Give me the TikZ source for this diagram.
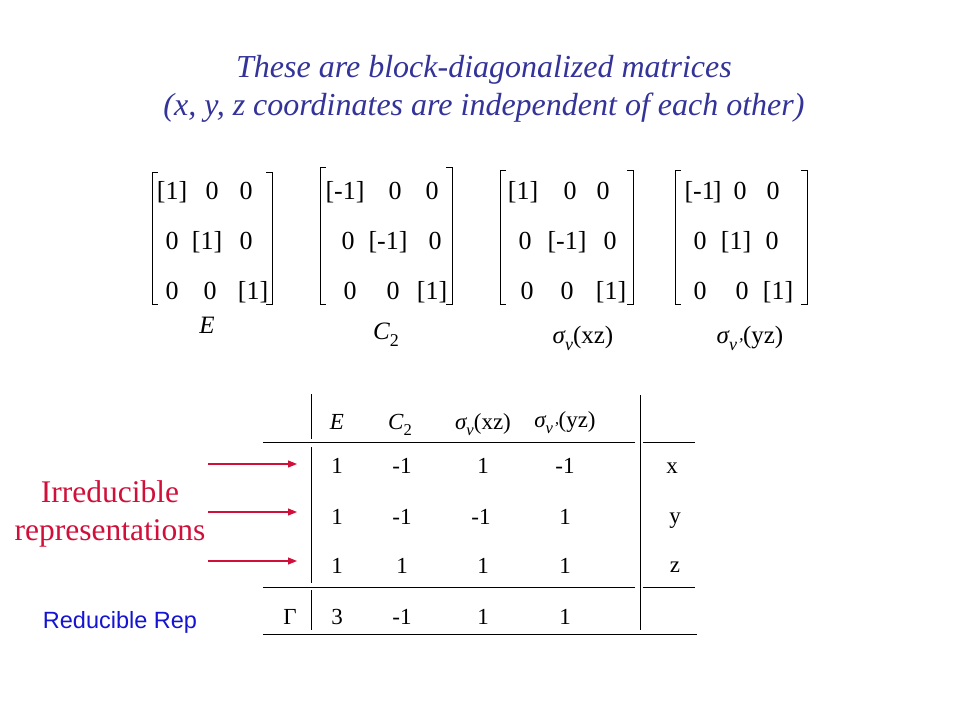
\documentclass[tikz,border=0pt]{standalone}
\usepackage{fontspec}
\setmainfont{Liberation Serif}
\newfontfamily\arialfont{Liberation Sans}
\usetikzlibrary{arrows.meta}
\definecolor{titleblue}{HTML}{333399}
\definecolor{irrred}{HTML}{D0103A}
\definecolor{repblue}{HTML}{1414D2}
\makeatletter
\newcommand{\lowsub}[1]{\raisebox{-0.28em}{\fontsize{\fpeval{0.72*\f@size}}{0}\selectfont #1}}
\makeatother

\begin{document}
\begin{tikzpicture}[x=1pt, y=-1pt,
  entry/.style={inner sep=0pt, anchor=base, font=\fontsize{26}{26}\selectfont},
  mlabel/.style={inner sep=0pt, anchor=base, font=\fontsize{25}{25}\selectfont},
  cell/.style={inner sep=0pt, anchor=base, font=\fontsize{23}{23}\selectfont},
  bracket/.style={draw=black, line width=1pt},
  rule/.style={draw=black, line width=1pt},
  irrarrow/.style={-{Triangle[length=9pt, width=7pt]}, draw=irrred, line width=1.1pt}
]
  \fill[white] (0,0) rectangle (960,720);
  \useasboundingbox (0,0) rectangle (960,720);

  % Title
  \node[inner sep=0pt, anchor=base, text=titleblue, font=\fontsize{32}{38}\selectfont\itshape] (title1) at (484,77) {These are block-diagonalized matrices};
  \node[inner sep=0pt, anchor=base, text=titleblue, font=\fontsize{32}{38}\selectfont\itshape] (title2) at (484,115) {(x, y, z coordinates are independent of each other)};

  % Matrix E
  \draw[bracket] (158,172) -- (152,172) -- (152,304) -- (158,304);
  \draw[bracket] (266,172) -- (272,172) -- (272,304) -- (266,304);
  \node[entry] (E11) at (172,199) {[1]};
  \node[entry] (E12) at (212,199) {0};
  \node[entry] (E13) at (246,199) {0};
  \node[entry] (E21) at (172,249) {0};
  \node[entry] (E22) at (207,249) {[1]};
  \node[entry] (E23) at (246,249) {0};
  \node[entry] (E31) at (172,299) {0};
  \node[entry] (E32) at (210,299) {0};
  \node[entry] (E33) at (253,299) {[1]};
  \node[mlabel] (labE) at (207,333) {\itshape E};

  % Matrix C2
  \draw[bracket] (326,167) -- (320,167) -- (320,304) -- (326,304);
  \draw[bracket] (446,167) -- (452,167) -- (452,304) -- (446,304);
  \node[entry] (C11) at (345,199) {[-1]};
  \node[entry] (C12) at (395,199) {0};
  \node[entry] (C13) at (432,199) {0};
  \node[entry] (C21) at (348,249) {0};
  \node[entry] (C22) at (388,249) {[-1]};
  \node[entry] (C23) at (435,249) {0};
  \node[entry] (C31) at (350,299) {0};
  \node[entry] (C32) at (393,299) {0};
  \node[entry] (C33) at (432,299) {[1]};
  \node[mlabel] (labC) at (386,339) {{\itshape C}\lowsub{2}};

  % Matrix sigma_v(xz)
  \draw[bracket] (506,170) -- (500,170) -- (500,304) -- (506,304);
  \draw[bracket] (627,170) -- (633,170) -- (633,304) -- (627,304);
  \node[entry] (S11) at (523,199) {[1]};
  \node[entry] (S12) at (570,199) {0};
  \node[entry] (S13) at (603,199) {0};
  \node[entry] (S21) at (525,249) {0};
  \node[entry] (S22) at (567,249) {[-1]};
  \node[entry] (S23) at (610,249) {0};
  \node[entry] (S31) at (527,299) {0};
  \node[entry] (S32) at (567,299) {0};
  \node[entry] (S33) at (611,299) {[1]};
  \node[mlabel] (labS) at (583,343) {{\itshape σ}\lowsub{\itshape v}(xz)};

  % Matrix sigma_v'(yz)
  \draw[bracket] (681,170) -- (675,170) -- (675,304) -- (681,304);
  \draw[bracket] (801,170) -- (807,170) -- (807,304) -- (801,304);
  \node[entry] (T11) at (703,199) {[-1\kern-2pt]};
  \node[entry] (T12) at (740,199) {0};
  \node[entry] (T13) at (773,199) {0};
  \node[entry] (T21) at (700,249) {0};
  \node[entry] (T22) at (736,249) {[1]};
  \node[entry] (T23) at (772,249) {0};
  \node[entry] (T31) at (700,299) {0};
  \node[entry] (T32) at (742,299) {0};
  \node[entry] (T33) at (778,299) {[1]};
  \node[mlabel] (labT) at (750,343) {{\itshape σ}\lowsub{\itshape v'}(yz)};

  % Character table rules
  \draw[rule] (311,394) -- (311,439);
  \draw[rule] (311,447) -- (311,583);
  \draw[rule] (311,590) -- (311,630);
  \draw[rule] (640,395) -- (640,630);
  \draw[rule] (263,442) -- (635,442);
  \draw[rule] (643,442) -- (695,442);
  \draw[rule] (263,587) -- (635,587);
  \draw[rule] (643,587) -- (695,587);
  \draw[rule] (263,634) -- (697,634);

  % Header
  \node[cell] (hE) at (337,429) {\itshape E};
  \node[cell] (hC) at (400,429) {{\itshape C}\lowsub{2}};
  \node[cell] (hS) at (483,429) {{\itshape σ}\lowsub{\itshape v}(xz)};
  \node[cell] (hT) at (565,427) {{\itshape σ}\lowsub{\itshape v'}(yz)};

  % Rows
  \node[cell] (r1a) at (337,473) {1};
  \node[cell] (r1b) at (402,473) {-1};
  \node[cell] (r1c) at (483,473) {1};
  \node[cell] (r1d) at (565,473) {-1};
  \node[cell] (r1x) at (672,473) {x};
  \node[cell] (r2a) at (337,524) {1};
  \node[cell] (r2b) at (402,524) {-1};
  \node[cell] (r2c) at (481,524) {-1};
  \node[cell] (r2d) at (565,524) {1};
  \node[cell] (r2y) at (675,523) {y};
  \node[cell] (r3a) at (337,573) {1};
  \node[cell] (r3b) at (402,573) {1};
  \node[cell] (r3c) at (483,573) {1};
  \node[cell] (r3d) at (565,573) {1};
  \node[cell] (r3z) at (675,572) {z};
  \node[cell] (gG) at (290,624) {Γ};
  \node[cell] (g3) at (337,624) {3};
  \node[cell] (gb) at (402,624) {-1};
  \node[cell] (gc) at (483,624) {1};
  \node[cell] (gd) at (565,624) {1};

  % Irreducible representations
  \node[inner sep=0pt, anchor=base, text=irrred, font=\fontsize{31.5}{38}\selectfont] (irr1) at (110,502) {Irreducible};
  \node[inner sep=0pt, anchor=base, text=irrred, font=\fontsize{31.5}{38}\selectfont] (irr2) at (110,540) {representations};
  \coordinate (a1s) at (208,464);
  \coordinate (a1e) at (297,464);
  \coordinate (a2s) at (208,512);
  \coordinate (a2e) at (297,512);
  \coordinate (a3s) at (208,561);
  \coordinate (a3e) at (297,561);
  \draw[irrarrow] (a1s) -- (a1e);
  \draw[irrarrow] (a2s) -- (a2e);
  \draw[irrarrow] (a3s) -- (a3e);

  % Reducible representation
  \node[inner sep=0pt, anchor=base, text=repblue, font=\arialfont\fontsize{23.5}{23.5}\selectfont] (redrep) at (120,628) {Reducible Rep};
\end{tikzpicture}
\end{document}
